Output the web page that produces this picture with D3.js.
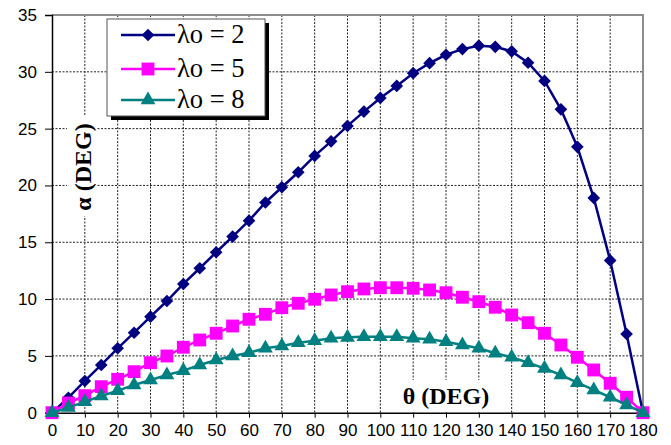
<!DOCTYPE html>
<html>
<head>
<meta charset="utf-8">
<script src="https://cdn.jsdelivr.net/npm/d3@7"></script>
<style>
  body { margin: 0; background: #fff; }
  svg { display: block; }
</style>
</head>
<body>
<div id="chart"></div>
<script>
// theta every 5 degrees
let theta = d3.range(0, 181, 5)

let lambda2 = [0, 1.32, 2.79, 4.2, 5.67, 7.04, 8.45, 9.83, 11.33, 12.71, 14.12, 15.5, 16.9,
  18.5, 19.84, 21.16, 22.6, 23.88, 25.24, 26.5, 27.7, 28.76, 29.88, 30.76, 31.5, 32.0, 32.3,
  32.2, 31.8, 30.8, 29.2, 26.7, 23.4, 18.9, 13.4, 6.93, 0]

let lambda5 = [0, 0.85, 1.5, 2.29, 2.94, 3.61, 4.4, 4.99, 5.76, 6.4, 6.99, 7.63, 8.22,
  8.66, 9.24, 9.63, 9.98, 10.36, 10.65, 10.89, 11.0, 11.0, 10.95, 10.8, 10.56, 10.16, 9.77,
  9.28, 8.6, 7.92, 6.99, 5.96, 4.88, 3.76, 2.59, 1.36, 0]

let lambda8 = [0, 0.45, 0.97, 1.47, 1.94, 2.44, 2.88, 3.32, 3.7, 4.2, 4.64, 4.99, 5.28,
  5.67, 5.87, 6.16, 6.34, 6.55, 6.63, 6.69, 6.69, 6.69, 6.55, 6.46, 6.25, 5.96, 5.67,
  5.23, 4.88, 4.4, 3.9, 3.32, 2.64, 2.0, 1.36, 0.68, 0]

let xTicks = d3.range(0, 181, 10)
let yTicks = d3.range(0, 36, 5)

let seriesNames = ["λo = 2", "λo = 5", "λo = 8"]
let seriesColors = ["#000080", "#ff00ff", "#008080"]
let seriesValues = [lambda2, lambda5, lambda8]

let width = 671
let height = 445
let plotLeft = 52, plotRight = 643, plotTop = 15, plotBottom = 412.7

let serif = "'Liberation Serif', 'Times New Roman', serif"

let svg = d3.select("#chart").append("svg")
  .attr("width", width)
  .attr("height", height)

let xScale = d3.scaleLinear().domain([0, 180]).range([plotLeft, plotRight])
let yScale = d3.scaleLinear().domain([0, 35]).range([plotBottom, plotTop])

// grid
let grid = svg.append("g").attr("class", "grid")
grid.selectAll(".vgrid")
  .data(xTicks.filter(d => d > 0 && d < 180))
  .enter().append("line")
  .attr("x1", d => xScale(d)).attr("x2", d => xScale(d))
  .attr("y1", plotTop).attr("y2", plotBottom)
  .attr("stroke", "#222").attr("stroke-width", 1)
  .attr("stroke-dasharray", "2,1.5")
grid.selectAll(".hgrid")
  .data(yTicks.filter(d => d > 0 && d < 35))
  .enter().append("line")
  .attr("x1", plotLeft).attr("x2", plotRight)
  .attr("y1", d => yScale(d)).attr("y2", d => yScale(d))
  .attr("stroke", "#222").attr("stroke-width", 1)
  .attr("stroke-dasharray", "2,1.5")

// frame top and right (gray)
svg.append("path")
  .attr("d", `M${plotLeft},${plotTop}H${plotRight}V${plotBottom}`)
  .attr("fill", "none").attr("stroke", "#8c8c8c").attr("stroke-width", 2)

// axis title backgrounds + titles
svg.append("rect").attr("x", 67).attr("y", 116).attr("width", 30).attr("height", 100).attr("fill", "#fff")
svg.append("text")
  .attr("transform", `translate(91, 167) rotate(-90)`)
  .attr("text-anchor", "middle")
  .style("font-family", serif)
  .style("font-weight", "bold")
  .style("font-size", "24px")
  .text("α (DEG)")

svg.append("rect").attr("x", 395).attr("y", 380).attr("width", 102).attr("height", 32).attr("fill", "#fff")
svg.append("text")
  .attr("x", 446).attr("y", 404)
  .attr("text-anchor", "middle")
  .style("font-family", serif)
  .style("font-weight", "bold")
  .style("font-size", "24px")
  .text("θ (DEG)")

// axes
let xAxis = d3.axisBottom(xScale).tickValues(xTicks).tickSize(5).tickPadding(6)
let yAxis = d3.axisLeft(yScale).tickValues(yTicks).tickSize(7).tickPadding(8)

let gx = svg.append("g")
  .attr("transform", `translate(0, ${plotBottom})`)
  .call(xAxis)
let gy = svg.append("g")
  .attr("transform", `translate(${plotLeft}, 0)`)
  .call(yAxis)

;[gx, gy].forEach(g => {
  g.select(".domain").attr("stroke", "#000").attr("stroke-width", 1.5)
  g.selectAll(".tick line").attr("stroke", "#000")
  g.selectAll("text")
    .attr("fill", "#000")
    .style("font-family", "'Liberation Sans', Arial, sans-serif")
    .style("font-size", "17px")
})

// markers
let diamond = d3.symbol().type(d3.symbolSquare).size(80)
let square = d3.symbol().type(d3.symbolSquare).size(165)
let triangle = d3.symbol().type(d3.symbolTriangle).size(95)
let markers = [
  { path: diamond(), rot: 45 },
  { path: square(), rot: 0 },
  { path: triangle(), rot: 0 }
]

let line = d3.line()
  .x((d, i) => xScale(theta[i]))
  .y(d => yScale(d))

seriesValues.forEach((vals, s) => {
  let g = svg.append("g").attr("class", "series" + s)
  g.append("path")
    .datum(vals)
    .attr("d", line)
    .attr("fill", "none")
    .attr("stroke", seriesColors[s])
    .attr("stroke-width", 2.5)
  g.selectAll(".pt")
    .data(vals)
    .enter().append("path")
    .attr("d", markers[s].path)
    .attr("transform", (d, i) => `translate(${xScale(theta[i])}, ${yScale(d)}) rotate(${markers[s].rot})`)
    .attr("fill", seriesColors[s])
})

// legend
let legend = svg.append("g").attr("class", "legend")
legend.append("rect").attr("x", 111).attr("y", 23).attr("width", 158).attr("height", 97).attr("fill", "#000")
legend.append("rect").attr("x", 107).attr("y", 19).attr("width", 158).attr("height", 97)
  .attr("fill", "#fff").attr("stroke", "#555").attr("stroke-width", 1)

let legendY = [35, 69, 100]
seriesNames.forEach((name, s) => {
  let y = legendY[s]
  legend.append("line")
    .attr("x1", 121).attr("x2", 175).attr("y1", y).attr("y2", y)
    .attr("stroke", seriesColors[s]).attr("stroke-width", 2.5)
  legend.append("path")
    .attr("d", markers[s].path)
    .attr("transform", `translate(148, ${y}) rotate(${markers[s].rot})`)
    .attr("fill", seriesColors[s])
  legend.append("text")
    .attr("x", 177).attr("y", y + 8)
    .style("font-family", serif)
    .style("font-size", "26.5px")
    .text(name)
})
</script>
</body>
</html>
